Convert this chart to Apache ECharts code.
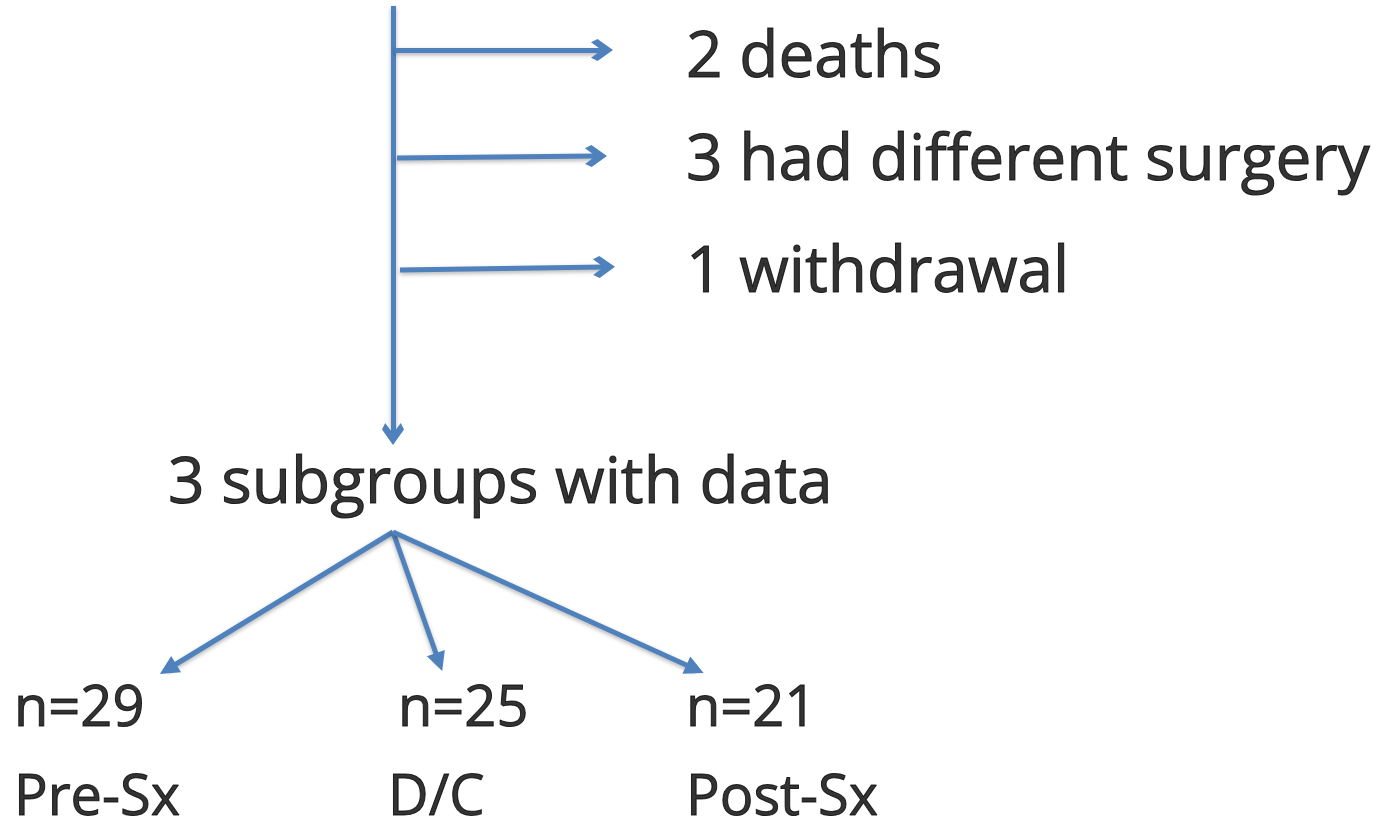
<!DOCTYPE html>
<html>
<head>
<meta charset="utf-8">
<script src="https://cdn.jsdelivr.net/npm/echarts@6/dist/echarts.min.js"></script>
<style>
  html, body { margin: 0; padding: 0; background: #fff; }
  #main { width: 1396px; height: 825px; }
</style>
</head>
<body>
<div id="main"></div>
<script>
// flow diagram: trunk, exclusions, subgroups
var trunk = [[393, 6], [393, 434]];
var exclusions = ['2 deaths', '3 had different surgery', '1 withdrawal'];
var exclusionFrom = [[395, 50], [397, 158], [400, 270]];
var exclusionTo = [[602, 50], [596, 156], [604, 267]];
var exclusionLabelAt = [[686, 59], [686, 162], [686, 274]];

var mergeLabel = '3 subgroups with data';
var mergeLabelAt = [168, 485];

var splitFrom = [393, 532];
var subgroupTo = [[168, 669], [439, 662], [695, 669]];
var subgroupN = ['n=29', 'n=25', 'n=21'];
var subgroupNames = ['Pre-Sx', 'D/C', 'Post-Sx'];
var subgroupNAt = [[14, 710], [398, 710], [686, 710]];
var subgroupNameAt = [[14, 799], [388, 799], [686, 799]];

var blue = '#4f81bd';
var chevron = 'path://M0,0 L12,9.5 L8.5,13.5 L0,7 L-8.5,13.5 L-12,9.5 Z';

var lineStyle = {
  color: blue,
  width: 5,
  opacity: 1,
  shadowBlur: 4,
  shadowColor: 'rgba(0,0,0,0.3)',
  shadowOffsetY: 2
};

var textPoints = [];
exclusions.forEach(function (t, i) {
  textPoints.push({ value: exclusionLabelAt[i], name: t });
});
textPoints.push({ value: mergeLabelAt, name: mergeLabel });
subgroupN.forEach(function (t, i) {
  textPoints.push({ value: subgroupNAt[i], name: t, label: { fontSize: 56 } });
});
subgroupNames.forEach(function (t, i) {
  textPoints.push({ value: subgroupNameAt[i], name: t, label: { fontSize: 56 } });
});

var chart = echarts.init(document.getElementById('main'));
chart.setOption({
  animation: false,
  grid: { left: 0, right: 0, top: 0, bottom: 0 },
  xAxis: { type: 'value', min: 0, max: 1396, show: false },
  yAxis: { type: 'value', min: 0, max: 825, inverse: true, show: false },
  series: [
    {
      type: 'lines',
      coordinateSystem: 'cartesian2d',
      symbol: ['none', chevron],
      symbolSize: [26, 22],
      lineStyle: lineStyle,
      data: [{ coords: trunk }]
    },
    {
      type: 'lines',
      coordinateSystem: 'cartesian2d',
      symbol: ['none', chevron],
      symbolSize: [26, 22],
      lineStyle: lineStyle,
      data: exclusionFrom.map(function (p, i) {
        return { coords: [p, exclusionTo[i]] };
      })
    },
    {
      type: 'lines',
      coordinateSystem: 'cartesian2d',
      symbol: ['none', 'triangle'],
      symbolSize: [17, 19],
      lineStyle: lineStyle,
      data: subgroupTo.map(function (p) {
        return { coords: [splitFrom, p] };
      })
    },
    {
      type: 'scatter',
      symbolSize: 0,
      silent: true,
      label: {
        show: true,
        position: 'right',
        distance: 0,
        formatter: function (p) { return p.name; },
        fontFamily: 'Open Sans',
        fontSize: 64,
        color: '#000',
        textBorderColor: '#000',
        textBorderWidth: 1
      },
      data: textPoints
    }
  ]
});
</script>
</body>
</html>
